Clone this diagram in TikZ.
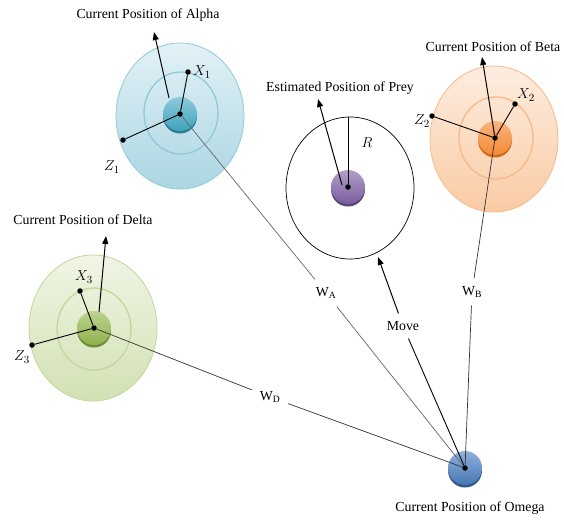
\documentclass[tikz,border=0pt]{standalone}
\usepackage{fontspec}
\setmainfont{Liberation Serif}
\usetikzlibrary{positioning,arrows.meta}
\definecolor{alphaL}{HTML}{E2F1F6}
\definecolor{alphaM}{HTML}{ABD6E3}
\definecolor{alphaR}{HTML}{8FCADB}
\definecolor{alphaT}{HTML}{8ECBDB}
\definecolor{alphaC}{HTML}{3FA2BD}
\definecolor{alphaD}{HTML}{2E7D92}
\definecolor{betaL}{HTML}{FDEDE0}
\definecolor{betaM}{HTML}{FACBA4}
\definecolor{betaR}{HTML}{F6B98A}
\definecolor{betaT}{HTML}{FAB47C}
\definecolor{betaC}{HTML}{F28A36}
\definecolor{betaD}{HTML}{D2691A}
\definecolor{deltaL}{HTML}{F0F5E5}
\definecolor{deltaM}{HTML}{D2E1B3}
\definecolor{deltaR}{HTML}{C3D69B}
\definecolor{deltaT}{HTML}{BCD38F}
\definecolor{deltaC}{HTML}{8FB24C}
\definecolor{deltaD}{HTML}{6E8C37}
\definecolor{preyT}{HTML}{B09FC8}
\definecolor{preyC}{HTML}{7A5E9E}
\definecolor{preyD}{HTML}{5A4478}
\definecolor{omegaT}{HTML}{8FB0DA}
\definecolor{omegaC}{HTML}{4777B5}
\definecolor{omegaD}{HTML}{30598D}

\begin{document}
\begin{tikzpicture}[x=1pt, y=-1pt,
    dot/.style={circle, fill=black, inner sep=0pt, minimum size=5.5pt},
    lbl/.style={inner sep=1pt, font=\fontsize{13.8}{16}\selectfont},
    mlbl/.style={inner sep=1pt, font=\fontsize{15}{17}\selectfont},
    wlbl/.style={lbl, inner sep=2pt, outer sep=6pt},
    arr/.style={-{Triangle[length=8pt, width=6pt]}, line width=1pt},
    spoke/.style={line width=0.9pt},
    ray/.style={line width=0.7pt, black!80}]
  \useasboundingbox (0,0) rectangle (564,520);
  \fill[white] (0,0) rectangle (564,520);
  \foreach \n/\cx/\cy/\dx/\dy in {alpha/180/112/0/4, beta/495/137/-1/2, delta/93/328/0/0} {
    \shade[top color=\n L, bottom color=\n M, draw=\n R, line width=0.8pt]
      (\cx+\dx,\cy+\dy) ellipse (64 and 73);
    \draw[\n R, line width=1.3pt] (\cx+1,\cy+1) ellipse (37 and 41);
  }
  \foreach \n/\cx/\cy in {alpha/180/114, beta/495/138, delta/94/328, prey/348/187, omega/465/468} {
    \fill[\n D] (\cx,\cy+2.5) ellipse (17 and 17);
    \shade[top color=\n T, bottom color=\n C] (\cx,\cy) ellipse (17 and 17);
    \node[dot] (\n) at (\cx,\cy) {};
  }
  % alpha
  \node[lbl] (alphatitle) at (148,15) {Current Position of Alpha};
  \coordinate (alphafoot) at (169,98);
  \coordinate (alphahead) at (154,32);
  \draw[arr] (alphafoot) -- (alphahead);
  \node[dot] (x1) at (188,72) {};
  \node[dot] (z1) at (123,140) {};
  \draw[spoke] (alpha) -- (x1);
  \draw[spoke] (alpha) -- (z1);
  \node[mlbl, right=1pt of x1] (x1lbl) {$X_1$};
  \node[mlbl] (z1lbl) at (112,167) {$Z_1$};
  % beta
  \node[lbl] (betatitle) at (493,47) {Current Position of Beta};
  \coordinate (betahead) at (482,57);
  \draw[arr] (beta) -- (betahead);
  \node[dot] (x2) at (515,104) {};
  \node[dot] (z2) at (432,116) {};
  \draw[spoke] (beta) -- (x2);
  \draw[spoke] (beta) -- (z2);
  \node[mlbl] (x2lbl) at (526,95) {$X_2$};
  \node[mlbl] (z2lbl) at (422,121) {$Z_2$};
  % delta
  \node[lbl] (deltatitle) at (83,220) {Current Position of Delta};
  \coordinate (deltafoot) at (99,312);
  \coordinate (deltahead) at (106,236);
  \draw[arr] (deltafoot) -- (deltahead);
  \node[dot] (x3) at (80,291) {};
  \node[dot] (z3) at (32,345) {};
  \draw[spoke] (delta) -- (x3);
  \draw[spoke] (delta) -- (z3);
  \node[mlbl] (x3lbl) at (84,277) {$X_3$};
  \node[mlbl] (z3lbl) at (22,357) {$Z_3$};
  % prey
  \draw[line width=0.7pt] (350,188) ellipse (64 and 71);
  \coordinate (rtop) at (348,117);
  \draw[line width=0.7pt] (prey) -- (rtop);
  \node[mlbl] (rlbl) at (367,143) {$R$};
  \node[lbl] (preytitle) at (340,88) {Estimated Position of Prey};
  \coordinate (preyfoot) at (342,185);
  \coordinate (preyhead) at (318,99);
  \draw[arr] (preyfoot) -- (preyhead);
  % omega
  \node[lbl] (omegatitle) at (470,508) {Current Position of Omega};
  \node[wlbl] (wa) at (326,293) {W\textsubscript{A}};
  \node[wlbl] (wb) at (472,292) {W\textsubscript{B}};
  \node[wlbl] (wd) at (270,397) {W\textsubscript{D}};
  \node[wlbl] (move) at (403,326) {Move};
  \coordinate (movehead) at (378,257);
  \draw[ray, black!60] (alpha) -- (wa) -- (omega);
  \draw[ray] (beta) -- (wb) -- (omega);
  \draw[ray] (delta) -- (wd) -- (omega);
  \draw[line width=0.9pt] (omega) -- (move);
  \draw[arr] (move) -- (movehead);
\end{tikzpicture}
\end{document}
